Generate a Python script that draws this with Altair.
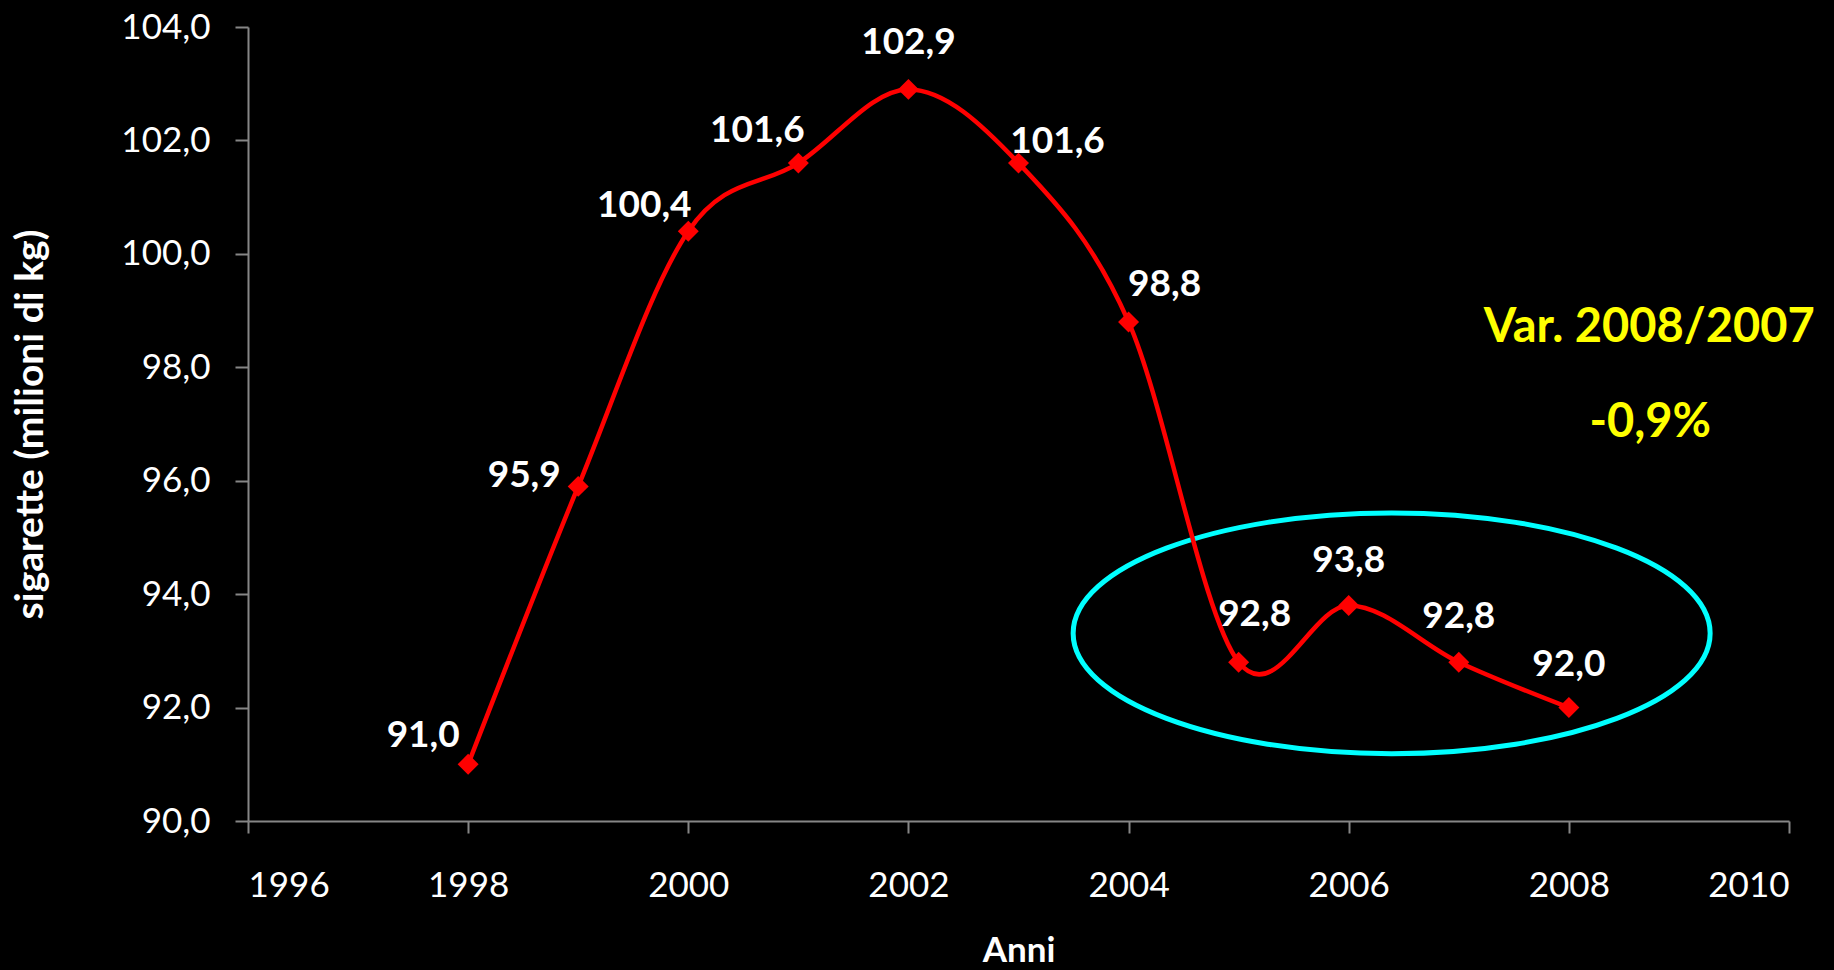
import altair as alt
import pandas as pd

# ---- data ----
years = [1998, 1999, 2000, 2001, 2002, 2003, 2004, 2005, 2006, 2007, 2008]
values = [91.0, 95.9, 100.4, 101.6, 102.9, 101.6, 98.8, 92.8, 93.8, 92.8, 92.0]
labels = ["91,0", "95,9", "100,4", "101,6", "102,9", "101,6", "98,8", "92,8", "93,8", "92,8", "92,0"]

x_ticks = [1996, 1998, 2000, 2002, 2004, 2006, 2008, 2010]
y_ticks = [90, 92, 94, 96, 98, 100, 102, 104]

# annotation (highlight ellipse around the last years, and the yearly change note)
ellipse_center_year = [2006.39]
ellipse_center_value = [93.31]
note_texts = ["Var. 2008/2007", "-0,9%"]
note_years = [2008.73, 2008.74]
note_values = [98.45, 96.77]

df = pd.DataFrame({"year": years, "value": values, "label": labels})
ell = pd.DataFrame({"year": ellipse_center_year, "value": ellipse_center_value})
notes = pd.DataFrame({"year": note_years, "value": note_values, "text": note_texts})

FONT = "Lato"
AXIS_GREY = "#868686"

xscale = alt.Scale(domain=[1996, 2010], nice=False, zero=False)
yscale = alt.Scale(domain=[90, 104], nice=False, zero=False)

x_enc = alt.X(
    "year:Q",
    scale=xscale,
    axis=alt.Axis(
        values=x_ticks,
        format="d",
        title="Anni",
        grid=False,
        tickSize=12,
        labelPadding=63,
        labelBaseline="alphabetic",
        labelFontSize=35,
        labelFont=FONT,
        labelColor="white",
        titleFont=FONT,
        titleFontWeight="bold",
        titleFontSize=35,
        titleColor="white",
        titleX=770.5,
        titleY=140,
        titleBaseline="alphabetic",
        titleAlign="center",
        domainColor=AXIS_GREY,
        tickColor=AXIS_GREY,
        domainWidth=2,
        tickWidth=2,
    ),
)
y_enc = alt.Y(
    "value:Q",
    scale=yscale,
    axis=alt.Axis(
        values=y_ticks,
        labelExpr="replace(format(datum.value, '.1f'), '.', ',')",
        title="sigarette (milioni di kg)",
        grid=False,
        tickSize=13,
        labelPadding=25,
        labelFontSize=35,
        labelFont=FONT,
        labelColor="white",
        titleFont=FONT,
        titleFontWeight="bold",
        titleFontSize=39,
        titleColor="white",
        titleAngle=270,
        titleX=-218,
        titleY=397,
        titleAlign="center",
        titleBaseline="middle",
        domainColor=AXIS_GREY,
        tickColor=AXIS_GREY,
        domainWidth=2,
        tickWidth=2,
    ),
)

ellipse_path = "M -1 0 A 1 0.378 0 1 0 1 0 A 1 0.378 0 1 0 -1 0 Z"
ellipse = alt.Chart(ell).mark_point(
    shape=ellipse_path, size=637 * 637, filled=False, stroke="#00FFFF", strokeWidth=5, opacity=1
).encode(x=alt.X("year:Q", scale=xscale), y=alt.Y("value:Q", scale=yscale))

base = alt.Chart(df)
line = base.mark_line(interpolate="cardinal", tension=0, color="#FF0000", strokeWidth=4.5).encode(x=x_enc, y=y_enc)
pts = base.mark_point(shape="diamond", filled=True, size=440, color="#FF0000", opacity=1).encode(
    x=alt.X("year:Q", scale=xscale), y=alt.Y("value:Q", scale=yscale)
)

# label placement (style, per point) as in the reference
label_offsets = {
    1998: (-45, -17), 1999: (-54, 1), 2000: (-44, -14), 2001: (-41, -21),
    2002: (0, -35), 2003: (39, -10), 2004: (36, -26), 2005: (16, -36),
    2006: (0, -33), 2007: (0, -34), 2008: (0, -32),
}
label_layers = []
for yr in years:
    dx, dy = label_offsets[yr]
    label_layers.append(
        base.transform_filter(alt.datum.year == yr)
        .mark_text(dx=dx, dy=dy, align="center", baseline="alphabetic", font=FONT,
                   fontWeight="bold", fontSize=37, color="white")
        .encode(x=alt.X("year:Q", scale=xscale), y=alt.Y("value:Q", scale=yscale), text="label:N")
    )

note = alt.Chart(notes).mark_text(
    align="center", baseline="alphabetic", font=FONT, fontWeight="bold", fontSize=47, color="#FFFF00"
).encode(x=alt.X("year:Q", scale=xscale), y=alt.Y("value:Q", scale=yscale), text="text:N")

chart = alt.layer(ellipse, line, pts, *label_layers, note).properties(
    width=1541,
    height=794,
    padding={"left": 248, "top": 27, "right": 45, "bottom": 149},
    autosize=alt.AutoSizeParams(type="none"),
    background="black",
).configure_view(stroke=None)

chart.save("out.html", embed_options={"renderer": "svg", "actions": False})
